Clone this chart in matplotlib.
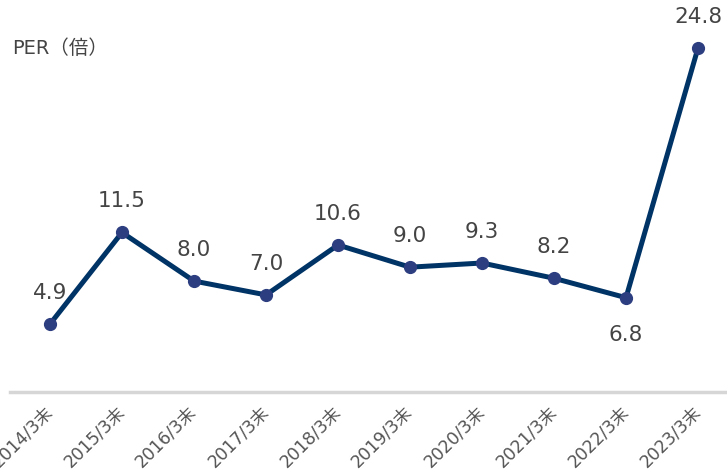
import matplotlib
matplotlib.use("Agg")
import matplotlib.pyplot as plt

plt.rcParams['font.family'] = ['DejaVu Sans', 'Noto Sans CJK JP']

periods = ["2014/3末", "2015/3末", "2016/3末", "2017/3末", "2018/3末",
           "2019/3末", "2020/3末", "2021/3末", "2022/3末", "2023/3末"]
per = [4.9, 11.5, 8.0, 7.0, 10.6, 9.0, 9.3, 8.2, 6.8, 24.8]
below = ["2022/3末"]  # ラベルを下に置く点

W, H = 727, 474
fig = plt.figure(figsize=(W / 100, H / 100), dpi=100)
# 軸の範囲: x=10px〜727px, y=0px〜392px
ax = fig.add_axes([10 / W, (H - 392) / H, (W - 10) / W, 392 / H])

xs = list(range(len(periods)))
ax.plot(xs, per, color="#003366", lw=3.6, zorder=2, solid_joinstyle="round")
ax.plot(xs, per, "o", color="#2d3e80", ms=8.5, zorder=3)

for x, v, p in zip(xs, per, periods):
    if p in below:
        ax.annotate(f"{v:.1f}", (x, v), xytext=(0, -27), textcoords="offset points",
                    ha="center", va="center", fontsize=15.5, color="#444444")
    else:
        ax.annotate(f"{v:.1f}", (x, v), xytext=(0, 22.5), textcoords="offset points",
                    ha="center", va="center", fontsize=15.5, color="#444444")

ax.set_xlim(-40 / 72, 9 + 29 / 72)
ax.set_ylim(0, 392 / 13.87)

for s in ["top", "right", "left"]:
    ax.spines[s].set_visible(False)
ax.spines["bottom"].set_color("#d6d6d6")
ax.spines["bottom"].set_linewidth(2.5)
ax.set_yticks([])
ax.set_xticks(xs)
ax.set_xticklabels(periods, rotation=45, ha="right", va="center",
                   rotation_mode="anchor", fontsize=12.5, color="#555555")
ax.tick_params(axis="x", length=0, pad=12)

fig.text(12 / W, 1 - 48 / H, "PER（倍）", fontsize=14, color="#444444",
         ha="left", va="center")

fig.savefig("out.png", dpi=100)
